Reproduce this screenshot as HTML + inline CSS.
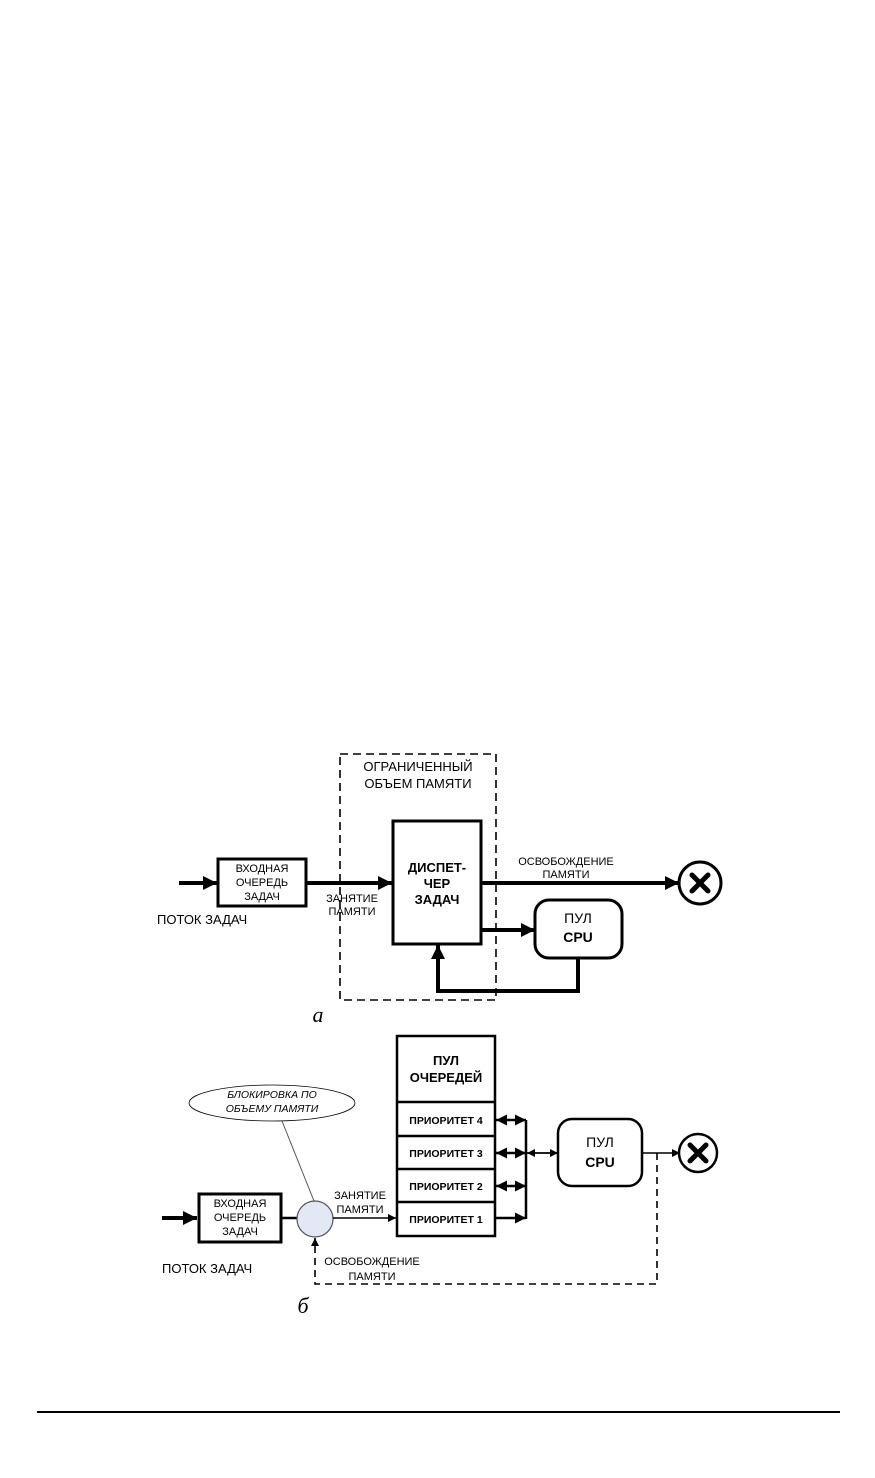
<!DOCTYPE html>
<html><head><meta charset="utf-8"><style>
html,body{margin:0;padding:0;background:#fff;}
svg{display:block;font-family:"Liberation Sans",sans-serif;}
</style></head><body>
<svg width="875" height="1478" viewBox="0 0 875 1478" xmlns="http://www.w3.org/2000/svg">
<defs>
<marker id="ah" viewBox="0 0 10 10" refX="10" refY="5" markerWidth="10" markerHeight="8" markerUnits="userSpaceOnUse" orient="auto-start-reverse"><path d="M0,0L10,5L0,10z" fill="#000"/></marker>
<marker id="ahb" viewBox="0 0 10 10" refX="10" refY="5" markerWidth="18" markerHeight="14" markerUnits="userSpaceOnUse" orient="auto-start-reverse"><path d="M0,0L10,5L0,10z" fill="#000"/></marker>
<marker id="ahm" viewBox="0 0 10 10" refX="10" refY="5" markerWidth="12" markerHeight="11" markerUnits="userSpaceOnUse" orient="auto-start-reverse"><path d="M0,0L10,5L0,10z" fill="#000"/></marker>
</defs>

<!-- Diagram a -->
<rect x="340" y="754" width="156" height="246" fill="none" stroke="#000" stroke-width="1.6" stroke-dasharray="8,5"/>
<text x="418" y="771" font-size="13" text-anchor="middle">ОГРАНИЧЕННЫЙ</text>
<text x="418" y="788" font-size="13" text-anchor="middle">ОБЪЕМ ПАМЯТИ</text>

<line x1="179" y1="883" x2="217" y2="883" stroke="#000" stroke-width="4" marker-end="url(#ahb)"/>
<rect x="218" y="859" width="88" height="47" fill="#fff" stroke="#000" stroke-width="3"/>
<text x="262" y="872" font-size="11" text-anchor="middle">ВХОДНАЯ</text>
<text x="262" y="886" font-size="11" text-anchor="middle">ОЧЕРЕДЬ</text>
<text x="262" y="900" font-size="11" text-anchor="middle">ЗАДАЧ</text>
<text x="157" y="924" font-size="13">ПОТОК ЗАДАЧ</text>

<line x1="307" y1="883" x2="392" y2="883" stroke="#000" stroke-width="4" marker-end="url(#ahb)"/>
<text x="352" y="902" font-size="11" text-anchor="middle">ЗАНЯТИЕ</text>
<text x="352" y="915" font-size="11" text-anchor="middle">ПАМЯТИ</text>

<rect x="393" y="821" width="88" height="123" fill="#fff" stroke="#000" stroke-width="3"/>
<text x="437" y="872" font-size="13" font-weight="bold" text-anchor="middle">ДИСПЕТ-</text>
<text x="437" y="888" font-size="13" font-weight="bold" text-anchor="middle">ЧЕР</text>
<text x="437" y="904" font-size="13" font-weight="bold" text-anchor="middle">ЗАДАЧ</text>

<line x1="481" y1="883" x2="679" y2="883" stroke="#000" stroke-width="4" marker-end="url(#ahb)"/>
<text x="566" y="865" font-size="11" text-anchor="middle">ОСВОБОЖДЕНИЕ</text>
<text x="566" y="878" font-size="11" text-anchor="middle">ПАМЯТИ</text>
<circle cx="700" cy="883" r="21" fill="#fff" stroke="#000" stroke-width="3"/>
<path d="M692,875L708,891M708,875L692,891" stroke="#000" stroke-width="5" stroke-linecap="round"/>

<line x1="481" y1="930" x2="535" y2="930" stroke="#000" stroke-width="4" marker-end="url(#ahb)"/>
<rect x="535" y="900" width="87" height="58" rx="14" fill="#fff" stroke="#000" stroke-width="3"/>
<text x="578" y="923" font-size="14" text-anchor="middle">ПУЛ</text>
<text x="578" y="942" font-size="14" font-weight="bold" text-anchor="middle">CPU</text>
<polyline points="578,958 578,991 438,991 438,945" fill="none" stroke="#000" stroke-width="4" marker-end="url(#ahb)"/>
<text x="318" y="1022" font-size="22" font-style="italic" font-family="Liberation Serif,serif" text-anchor="middle">а</text>

<!-- Diagram b -->
<rect x="397" y="1036" width="98" height="200" fill="#fff" stroke="#000" stroke-width="2.5"/>
<line x1="397" y1="1102" x2="495" y2="1102" stroke="#000" stroke-width="2.5"/>
<line x1="397" y1="1136" x2="495" y2="1136" stroke="#000" stroke-width="2.5"/>
<line x1="397" y1="1169" x2="495" y2="1169" stroke="#000" stroke-width="2.5"/>
<line x1="397" y1="1202" x2="495" y2="1202" stroke="#000" stroke-width="2.5"/>
<text x="446" y="1065" font-size="13" font-weight="bold" text-anchor="middle">ПУЛ</text>
<text x="446" y="1082" font-size="13" font-weight="bold" text-anchor="middle">ОЧЕРЕДЕЙ</text>
<text x="446" y="1124" font-size="10.5" font-weight="bold" text-anchor="middle">ПРИОРИТЕТ 4</text>
<text x="446" y="1157" font-size="10.5" font-weight="bold" text-anchor="middle">ПРИОРИТЕТ 3</text>
<text x="446" y="1190" font-size="10.5" font-weight="bold" text-anchor="middle">ПРИОРИТЕТ 2</text>
<text x="446" y="1223" font-size="10.5" font-weight="bold" text-anchor="middle">ПРИОРИТЕТ 1</text>

<line x1="526" y1="1120" x2="526" y2="1219" stroke="#000" stroke-width="2.5"/>
<line x1="496" y1="1120" x2="526" y2="1120" stroke="#000" stroke-width="2.5" marker-start="url(#ahm)" marker-end="url(#ahm)"/>
<line x1="496" y1="1153" x2="526" y2="1153" stroke="#000" stroke-width="2.5" marker-start="url(#ahm)" marker-end="url(#ahm)"/>
<line x1="496" y1="1186" x2="526" y2="1186" stroke="#000" stroke-width="2.5" marker-start="url(#ahm)" marker-end="url(#ahm)"/>
<line x1="496" y1="1218" x2="526" y2="1218" stroke="#000" stroke-width="2.5" marker-end="url(#ahm)"/>
<line x1="527" y1="1153" x2="558" y2="1153" stroke="#000" stroke-width="1.8" marker-start="url(#ah)" marker-end="url(#ah)"/>

<rect x="558" y="1119" width="84" height="67" rx="14" fill="#fff" stroke="#000" stroke-width="2.5"/>
<text x="600" y="1147" font-size="14" text-anchor="middle">ПУЛ</text>
<text x="600" y="1167" font-size="14" font-weight="bold" text-anchor="middle">CPU</text>
<line x1="642" y1="1153" x2="680" y2="1153" stroke="#000" stroke-width="1.5" marker-end="url(#ah)"/>
<circle cx="698" cy="1153" r="19" fill="#fff" stroke="#000" stroke-width="2.5"/>
<path d="M690,1145L706,1161M706,1145L690,1161" stroke="#000" stroke-width="5" stroke-linecap="round"/>
<polyline points="657,1153 657,1284 315,1284 315,1238" fill="none" stroke="#000" stroke-width="1.6" stroke-dasharray="7,5" marker-end="url(#ah)"/>

<ellipse cx="272" cy="1103" rx="83" ry="18" fill="#fff" stroke="#000" stroke-width="0.8"/>
<text x="272" y="1098" font-size="10.5" font-style="italic" text-anchor="middle">БЛОКИРОВКА ПО</text>
<text x="272" y="1112" font-size="10.5" font-style="italic" text-anchor="middle">ОБЪЕМУ ПАМЯТИ</text>
<line x1="282" y1="1121" x2="314" y2="1201" stroke="#555" stroke-width="1"/>

<line x1="162" y1="1218" x2="197" y2="1218" stroke="#000" stroke-width="4" marker-end="url(#ahb)"/>
<rect x="199" y="1194" width="82" height="48" fill="#fff" stroke="#000" stroke-width="3"/>
<text x="240" y="1207" font-size="11" text-anchor="middle">ВХОДНАЯ</text>
<text x="240" y="1221" font-size="11" text-anchor="middle">ОЧЕРЕДЬ</text>
<text x="240" y="1235" font-size="11" text-anchor="middle">ЗАДАЧ</text>
<line x1="281" y1="1218" x2="297" y2="1218" stroke="#000" stroke-width="2.5"/>
<circle cx="315" cy="1219" r="18" fill="#e3e9f4" stroke="#555" stroke-width="1.2"/>
<line x1="333" y1="1218" x2="396" y2="1218" stroke="#000" stroke-width="1.5" marker-end="url(#ah)"/>
<text x="360" y="1199" font-size="11" text-anchor="middle">ЗАНЯТИЕ</text>
<text x="360" y="1213" font-size="11" text-anchor="middle">ПАМЯТИ</text>
<text x="372" y="1265" font-size="11" text-anchor="middle">ОСВОБОЖДЕНИЕ</text>
<text x="372" y="1280" font-size="11" text-anchor="middle">ПАМЯТИ</text>
<text x="162" y="1273" font-size="13">ПОТОК ЗАДАЧ</text>
<text x="303" y="1313" font-size="22" font-style="italic" font-family="Liberation Serif,serif" text-anchor="middle">б</text>

<line x1="37" y1="1412" x2="840" y2="1412" stroke="#000" stroke-width="2"/>
</svg>
</body></html>
